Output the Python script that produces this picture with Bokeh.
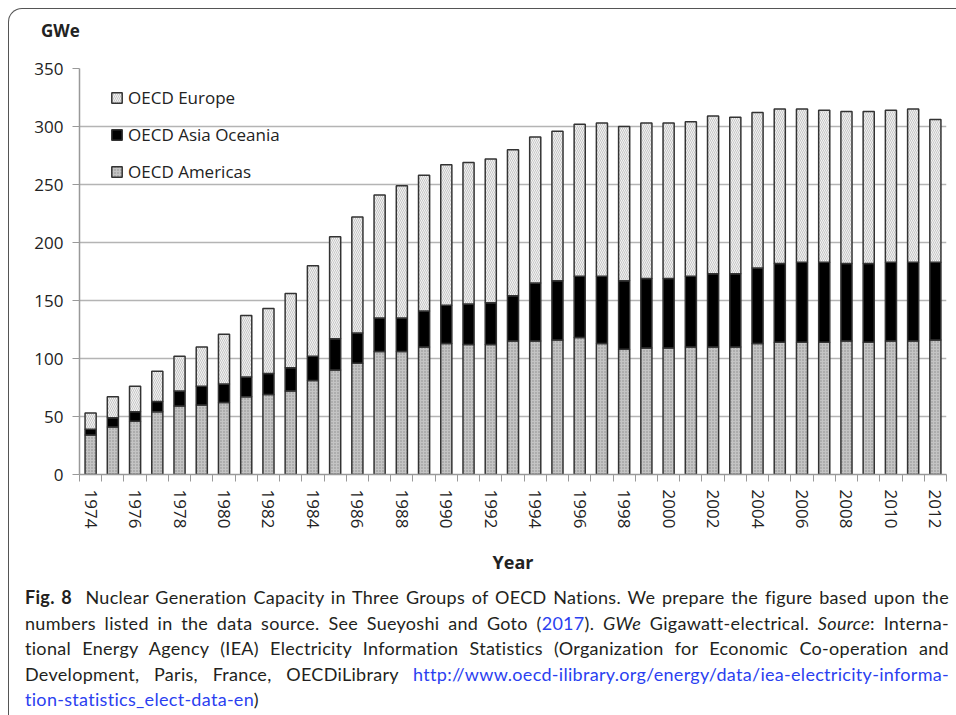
from bokeh.plotting import figure
from bokeh.models import ColumnDataSource, FixedTicker, Range1d, Legend, LegendItem, Div
from bokeh.layouts import column
from bokeh.embed import file_html
from bokeh.resources import INLINE

years = [1974, 1975, 1976, 1977, 1978, 1979, 1980, 1981, 1982, 1983,
         1984, 1985, 1986, 1987, 1988, 1989, 1990, 1991, 1992, 1993,
         1994, 1995, 1996, 1997, 1998, 1999, 2000, 2001, 2002, 2003,
         2004, 2005, 2006, 2007, 2008, 2009, 2010, 2011, 2012]
americas = [34, 41, 46, 54, 59, 60, 62, 67, 69, 72,
            81, 90, 96, 106, 106, 110, 113, 112, 112, 115,
            115, 116, 118, 113, 108, 109, 109, 110, 110, 110,
            113, 114, 114, 114, 115, 114, 115, 115, 116]
asia_oceania = [5, 8, 8, 9, 13, 16, 16, 17, 18, 20,
                21, 27, 26, 29, 29, 31, 33, 35, 36, 39,
                50, 51, 53, 58, 59, 60, 60, 61, 63, 63,
                65, 68, 69, 69, 67, 68, 68, 68, 67]
europe = [14, 18, 22, 26, 30, 34, 43, 53, 56, 64,
          78, 88, 100, 106, 114, 117, 121, 122, 124, 126,
          126, 129, 131, 132, 133, 134, 134, 133, 136, 135,
          134, 133, 132, 131, 131, 131, 131, 132, 123]
year_labels = [1974, 1976, 1978, 1980, 1982, 1984, 1986, 1988, 1990, 1992,
               1994, 1996, 1998, 2000, 2002, 2004, 2006, 2008, 2010, 2012]
y_ticks = [0, 50, 100, 150, 200, 250, 300, 350]

src = ColumnDataSource(dict(year=years, americas=americas,
                            asia=asia_oceania, europe=europe))

FONT = "Open Sans"

unit_div = Div(text="GWe", width=940, height=30,
               styles={"font-family": FONT, "font-size": "17px",
                       "font-weight": "bold", "color": "#222222",
                       "line-height": "20px", "padding-top": "7px",
                       "padding-left": "27px"})

p = figure(width=940, height=529,
           x_range=Range1d(years[0] - 0.5, years[-1] + 0.5),
           y_range=Range1d(0, 350),
           output_backend="svg", toolbar_location=None,
           min_border_left=70, min_border_right=3,
           min_border_top=19, min_border_bottom=104)
p.outline_line_color = None
p.background_fill_color = "white"
p.border_fill_color = "white"

rs = p.vbar_stack(["americas", "asia", "europe"], x="year", width=0.5,
                  source=src,
                  fill_color=["#c4c4c4", "#000000", "#f3f3f3"],
                  hatch_pattern=["dot", " ", "left_diagonal_line"],
                  hatch_color=["#8a8a8a", "#000000", "#c6c6c6"],
                  hatch_scale=[3, 6, 4],
                  hatch_weight=[1, 1, 1],
                  line_color="#333333", line_width=1.5)

legend = Legend(items=[LegendItem(label="OECD Europe", renderers=[rs[2]]),
                       LegendItem(label="OECD Asia Oceania", renderers=[rs[1]]),
                       LegendItem(label="OECD Americas", renderers=[rs[0]])],
                location=(31, 291))
legend.background_fill_alpha = 0
legend.border_line_color = None
legend.label_text_font = FONT
legend.label_text_font_size = "17px"
legend.label_text_color = "#222222"
legend.glyph_width = 13
legend.glyph_height = 13
legend.label_height = 20
legend.spacing = 14
legend.padding = 0
legend.margin = 0
legend.label_standoff = 5
p.add_layout(legend)

p.xgrid.visible = False
p.ygrid.grid_line_color = "#b4b4b4"
p.ygrid.grid_line_width = 1.5

boundaries = [y - 0.5 for y in years] + [years[-1] + 0.5]
p.xaxis.ticker = FixedTicker(ticks=year_labels, minor_ticks=boundaries)
p.xaxis.major_tick_out = 0
p.xaxis.major_tick_in = 0
p.xaxis.minor_tick_out = 7
p.xaxis.minor_tick_in = 0
p.xaxis.minor_tick_line_color = "#999999"
p.xaxis.axis_line_color = "#999999"
p.xaxis.axis_line_width = 1.5
p.xaxis.major_label_orientation = "vertical"
p.xaxis.major_label_standoff = 8
p.xaxis.major_label_text_font = FONT
p.xaxis.major_label_text_font_size = "17px"
p.xaxis.major_label_text_color = "#222222"
p.xaxis.axis_label = "Year"
p.xaxis.axis_label_text_font = FONT
p.xaxis.axis_label_text_font_size = "18px"
p.xaxis.axis_label_text_font_style = "bold"
p.xaxis.axis_label_text_color = "#222222"
p.xaxis.axis_label_standoff = 19

p.yaxis.ticker = FixedTicker(ticks=y_ticks)
p.yaxis.minor_tick_line_color = None
p.yaxis.major_tick_out = 7
p.yaxis.major_tick_in = 0
p.yaxis.major_tick_line_color = "#999999"
p.yaxis.axis_line_color = "#999999"
p.yaxis.axis_line_width = 1.5
p.yaxis.major_label_standoff = 9
p.yaxis.major_label_text_font = FONT
p.yaxis.major_label_text_font_size = "17px"
p.yaxis.major_label_text_color = "#222222"

LINK = "#2b3ff0"
JL = '<div style="text-align:justify; text-align-last:justify;">%s</div>'
caption_html = (
    '<div style="font-family:Lato; font-size:18px; line-height:25.5px; color:#231f20; '
    'margin-left:11px; width:924px; letter-spacing:0.3px;">'
    + JL % ('<b>Fig. 8</b>&nbsp; Nuclear Generation Capacity in Three Groups of OECD Nations. '
            'We prepare the figure based upon the')
    + JL % ('numbers listed in the data source. See Sueyoshi and Goto '
            '(<span style="color:%s">2017</span>). <i>GWe</i> Gigawatt-electrical. '
            '<i>Source</i>: Interna-' % LINK)
    + JL % ('tional Energy Agency (IEA) Electricity Information Statistics (Organization '
            'for Economic Co-operation and')
    + JL % ('Development, Paris, France, OECDiLibrary '
            '<span style="color:%s">http://www.oecd-ilibrary.org/energy/data/iea-electricity-informa-</span>' % LINK)
    + '<div><span style="color:%s">tion-statistics_elect-data-en</span>)</div>' % LINK
    + '</div>'
)
caption = Div(text=caption_html, width=940, height=126,
              styles={"margin-top": "7px"})

layout = column(unit_div, p, caption,
                styles={"border-top": "1.5px solid #555555",
                        "border-left": "1.5px solid #555555",
                        "border-top-left-radius": "14px",
                        "background-color": "white",
                        "margin-left": "8px", "margin-top": "8px",
                        "padding-right": "6px"})

open("out.html", "w").write(file_html(layout, INLINE))
